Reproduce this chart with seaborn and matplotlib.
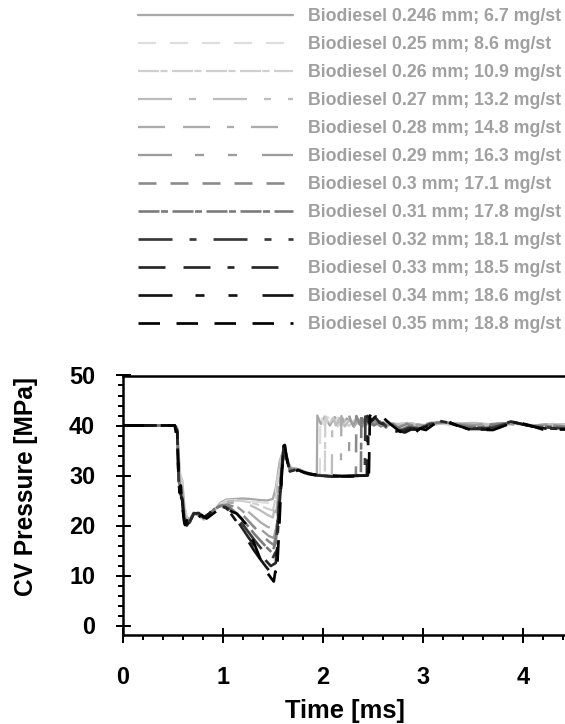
import matplotlib
matplotlib.use("Agg")
import matplotlib.pyplot as plt
import pandas as pd
import seaborn as sns
from matplotlib.ticker import MultipleLocator

# ---------------- data ----------------
nozzle_mm = ["0.246", "0.25", "0.26", "0.27", "0.28", "0.29", "0.3", "0.31", "0.32", "0.33", "0.34", "0.35"]
mass_mg = ["6.7", "8.6", "10.9", "13.2", "14.8", "16.3", "17.1", "17.8", "18.1", "18.5", "18.6", "18.8"]

t0 = [0, 0.52, 0.545, 0.56, 0.575, 0.595, 0.615, 0.64, 0.67, 0.71, 0.76, 0.81, 0.86, 0.92, 0.98, 1.04, 1.12, 1.2, 1.28, 1.36, 1.44, 1.5, 1.53, 1.57, 1.61, 1.65, 1.7, 1.76, 1.84, 1.9, 1.94, 1.945, 1.98, 2.02, 2.07, 2.12, 2.18, 2.24, 2.31, 2.4, 2.5, 2.6, 2.72, 2.85, 3.0, 3.15, 3.3, 3.5, 3.7, 3.9, 4.1, 4.3, 4.42]
p0 = [40, 40, 39.6, 34, 30, 29, 24, 21.6, 21.3, 22.6, 22, 21.2, 21.8, 23.2, 24.6, 25.2, 25.3, 25.4, 25.3, 25.1, 25.0, 25.3, 27.5, 33, 35.2, 32.5, 31.2, 31.3, 30.6, 30.3, 30.1, 42.0, 40.3, 41.8, 40.0, 41.7, 40.1, 41.4, 40.3, 40.9, 40.1, 40.6, 40.2, 40.5, 40.0, 40.4, 40.2, 40.5, 40.1, 40.4, 40.0, 40.3, 40.2]

t1 = [0, 0.52, 0.545, 0.56, 0.575, 0.595, 0.615, 0.64, 0.67, 0.71, 0.76, 0.81, 0.86, 0.92, 0.98, 1.04, 1.12, 1.2, 1.28, 1.36, 1.44, 1.5, 1.53, 1.57, 1.61, 1.65, 1.7, 1.76, 1.84, 1.92, 1.97, 1.975, 2.01, 2.05, 2.1, 2.15, 2.21, 2.27, 2.34, 2.42, 2.52, 2.62, 2.74, 2.87, 3.0, 3.15, 3.3, 3.5, 3.7, 3.9, 4.1, 4.3, 4.42]
p1 = [40, 40, 39.5, 33.5, 29.8, 28.8, 23.8, 21.4, 21.2, 22.5, 22.1, 21.3, 21.9, 23.1, 24.4, 25.0, 25.1, 25.0, 24.9, 24.7, 24.5, 24.6, 26.5, 32.5, 35.4, 32.4, 31.1, 31.2, 30.5, 30.2, 30.0, 42.1, 40.2, 41.7, 39.9, 41.6, 40.0, 41.3, 40.2, 40.8, 40.2, 40.7, 40.1, 40.6, 40.2, 40.3, 40.4, 40.3, 40.2, 40.5, 40.1, 40.2, 40.0]

t2 = [0, 0.52, 0.545, 0.56, 0.575, 0.595, 0.615, 0.64, 0.67, 0.71, 0.76, 0.81, 0.86, 0.92, 0.98, 1.04, 1.12, 1.2, 1.28, 1.36, 1.44, 1.5, 1.53, 1.57, 1.61, 1.65, 1.7, 1.76, 1.84, 1.94, 2.02, 2.025, 2.06, 2.1, 2.15, 2.2, 2.26, 2.32, 2.39, 2.47, 2.56, 2.65, 2.76, 2.88, 3.0, 3.15, 3.3, 3.5, 3.7, 3.9, 4.1, 4.3, 4.42]
p2 = [40, 40, 39.5, 33, 29.5, 28.4, 23.5, 21.2, 21.0, 22.4, 22.0, 21.2, 21.9, 23.0, 24.3, 24.9, 25.0, 24.9, 24.6, 24.1, 23.4, 23.0, 25.5, 32.2, 35.5, 32.6, 31.0, 31.2, 30.5, 30.1, 29.9, 42.0, 40.1, 41.6, 39.8, 41.4, 39.9, 41.2, 40.1, 40.9, 40.0, 40.6, 40.3, 40.5, 39.9, 40.4, 40.2, 40.6, 40.2, 40.4, 39.9, 40.3, 40.1]

t3 = [0, 0.52, 0.545, 0.56, 0.575, 0.595, 0.615, 0.64, 0.67, 0.71, 0.76, 0.81, 0.86, 0.92, 0.98, 1.04, 1.12, 1.2, 1.28, 1.36, 1.44, 1.5, 1.53, 1.57, 1.61, 1.65, 1.7, 1.76, 1.84, 1.96, 2.09, 2.095, 2.13, 2.17, 2.22, 2.27, 2.33, 2.39, 2.46, 2.53, 2.6, 2.68, 2.78, 2.89, 3.0, 3.15, 3.3, 3.5, 3.7, 3.9, 4.1, 4.3, 4.42]
p3 = [40, 40, 39.4, 32.5, 29, 28, 23.2, 21.0, 20.9, 22.4, 22.0, 21.3, 22.0, 23.1, 24.2, 24.8, 24.9, 24.7, 24.0, 23.2, 22.2, 21.6, 24.5, 32, 35.6, 32.7, 31.0, 31.3, 30.4, 30.1, 29.9, 41.9, 40.0, 41.5, 39.8, 41.3, 39.9, 41.0, 40.0, 40.8, 40.0, 40.5, 40.1, 40.4, 39.8, 40.3, 40.4, 40.5, 40.0, 40.6, 40.0, 40.2, 40.0]

t4 = [0, 0.52, 0.545, 0.56, 0.575, 0.595, 0.615, 0.64, 0.67, 0.71, 0.76, 0.81, 0.86, 0.92, 0.98, 1.04, 1.1, 1.17, 1.24, 1.31, 1.38, 1.45, 1.5, 1.54, 1.58, 1.62, 1.67, 1.74, 1.82, 1.95, 2.08, 2.18, 2.185, 2.22, 2.26, 2.31, 2.36, 2.42, 2.48, 2.55, 2.63, 2.72, 2.82, 2.92, 3.04, 3.18, 3.33, 3.5, 3.7, 3.9, 4.1, 4.3, 4.42]
p4 = [40, 40, 39.3, 32, 28.5, 27.5, 22.8, 20.8, 20.8, 22.5, 22.1, 21.4, 22.0, 23.2, 24.2, 24.6, 24.5, 24.0, 23.0, 21.8, 20.6, 19.7, 19.5, 23.5, 31.5, 35.7, 31.5, 31.3, 30.5, 30.1, 29.9, 29.8, 41.9, 40.1, 41.4, 39.7, 41.2, 39.9, 40.9, 40.1, 40.7, 40.0, 40.4, 39.6, 40.1, 40.5, 40.2, 40.0, 40.3, 40.6, 39.9, 40.2, 39.9]

t5 = [0, 0.52, 0.545, 0.56, 0.575, 0.595, 0.615, 0.64, 0.67, 0.71, 0.76, 0.81, 0.86, 0.92, 0.98, 1.04, 1.1, 1.16, 1.22, 1.28, 1.34, 1.4, 1.46, 1.51, 1.55, 1.59, 1.62, 1.67, 1.74, 1.82, 1.95, 2.1, 2.26, 2.265, 2.3, 2.34, 2.39, 2.44, 2.5, 2.57, 2.65, 2.74, 2.84, 2.95, 3.07, 3.2, 3.35, 3.52, 3.7, 3.9, 4.1, 4.3, 4.42]
p5 = [40, 40, 39.2, 31, 28, 27, 22.5, 20.6, 20.7, 22.5, 22.2, 21.5, 22.1, 23.3, 24.1, 24.4, 24.2, 23.5, 22.5, 21.3, 20.0, 18.9, 17.9, 17.5, 21, 31, 35.8, 31.4, 31.3, 30.6, 30.1, 29.8, 29.9, 41.8, 40.0, 41.3, 39.7, 41.0, 39.9, 40.8, 40.0, 40.5, 39.7, 40.2, 39.8, 40.6, 40.3, 40.1, 40.5, 40.2, 40.0, 40.3, 40.0]

t6 = [0, 0.52, 0.545, 0.56, 0.575, 0.595, 0.615, 0.64, 0.67, 0.71, 0.76, 0.81, 0.86, 0.92, 0.98, 1.04, 1.1, 1.16, 1.22, 1.28, 1.34, 1.4, 1.46, 1.51, 1.55, 1.59, 1.62, 1.67, 1.74, 1.82, 1.95, 2.1, 2.25, 2.33, 2.335, 2.37, 2.41, 2.46, 2.52, 2.58, 2.65, 2.74, 2.84, 2.95, 3.07, 3.2, 3.35, 3.52, 3.7, 3.9, 4.1, 4.3, 4.42]
p6 = [40, 40, 39.1, 30, 27.5, 26.5, 22.0, 20.4, 20.6, 22.4, 22.2, 21.5, 22.2, 23.3, 24.0, 24.2, 23.8, 22.9, 21.7, 20.4, 19.1, 17.9, 16.8, 16.1, 19.5, 30.5, 35.9, 31.2, 31.3, 30.6, 30.1, 29.8, 29.9, 30.0, 41.9, 40.2, 41.4, 39.9, 41.0, 39.8, 40.6, 39.5, 40.3, 39.7, 40.5, 40.6, 40.0, 39.8, 40.3, 40.5, 39.9, 40.0, 39.8]

t7 = [0, 0.52, 0.545, 0.56, 0.575, 0.595, 0.615, 0.64, 0.67, 0.71, 0.76, 0.81, 0.86, 0.92, 0.98, 1.03, 1.08, 1.14, 1.2, 1.26, 1.32, 1.38, 1.44, 1.49, 1.53, 1.57, 1.61, 1.67, 1.74, 1.82, 1.95, 2.1, 2.25, 2.38, 2.385, 2.42, 2.46, 2.51, 2.57, 2.63, 2.7, 2.78, 2.87, 2.97, 3.08, 3.2, 3.35, 3.52, 3.7, 3.9, 4.1, 4.3, 4.42]
p7 = [40, 40, 39.0, 29, 27, 26, 21.5, 20.3, 20.6, 22.4, 22.3, 21.6, 22.2, 23.4, 23.9, 23.9, 23.4, 22.4, 21.1, 19.7, 18.2, 16.9, 15.6, 14.6, 16.5, 28, 35.9, 31.1, 31.2, 30.5, 30.1, 29.8, 29.9, 30.0, 41.8, 40.3, 41.5, 40.0, 40.8, 39.6, 40.3, 39.2, 39.9, 39.5, 40.3, 40.8, 40.1, 39.6, 40.0, 40.6, 39.8, 39.8, 39.6]

t8 = [0, 0.52, 0.545, 0.56, 0.575, 0.595, 0.615, 0.64, 0.67, 0.71, 0.76, 0.81, 0.86, 0.92, 0.98, 1.03, 1.08, 1.14, 1.2, 1.26, 1.32, 1.38, 1.44, 1.49, 1.53, 1.57, 1.61, 1.67, 1.74, 1.82, 1.95, 2.1, 2.25, 2.42, 2.425, 2.46, 2.5, 2.55, 2.6, 2.66, 2.72, 2.79, 2.87, 2.96, 3.06, 3.18, 3.32, 3.5, 3.7, 3.9, 4.1, 4.3, 4.42]
p8 = [40, 40, 38.9, 28.5, 26.8, 25.5, 21.2, 20.2, 20.7, 22.4, 22.4, 21.6, 22.3, 23.5, 23.9, 23.7, 23.0, 21.8, 20.2, 18.6, 17.0, 15.5, 14.1, 13.1, 14.8, 26.5, 35.9, 31.0, 31.2, 30.5, 30.0, 29.8, 29.9, 30.0, 41.8, 40.5, 41.6, 40.2, 40.5, 39.3, 39.9, 39.0, 39.6, 39.3, 40.2, 40.9, 40.2, 39.4, 39.6, 40.7, 39.9, 39.5, 39.4]

t9 = [0, 0.52, 0.545, 0.56, 0.575, 0.595, 0.615, 0.64, 0.67, 0.71, 0.76, 0.81, 0.86, 0.92, 0.98, 1.03, 1.08, 1.13, 1.19, 1.25, 1.31, 1.37, 1.43, 1.48, 1.53, 1.57, 1.61, 1.67, 1.74, 1.82, 1.95, 2.1, 2.25, 2.44, 2.445, 2.48, 2.52, 2.57, 2.62, 2.68, 2.74, 2.8, 2.87, 2.95, 3.04, 3.15, 3.28, 3.45, 3.65, 3.88, 4.05, 4.25, 4.42]
p9 = [40, 40, 38.8, 28, 26.5, 25.2, 20.8, 20.1, 20.8, 22.4, 22.5, 21.6, 22.3, 23.6, 23.9, 23.5, 22.7, 21.4, 19.6, 17.8, 16.1, 14.5, 13.0, 11.9, 12.5, 25, 36.0, 30.8, 31.2, 30.4, 30.0, 29.8, 29.9, 30.0, 41.9, 40.8, 41.7, 40.5, 40.2, 39.0, 39.3, 38.8, 39.4, 39.2, 40.0, 41.0, 40.4, 39.3, 39.3, 40.8, 40.0, 39.4, 39.3]

t10 = [0, 0.52, 0.545, 0.56, 0.575, 0.595, 0.615, 0.64, 0.67, 0.71, 0.76, 0.81, 0.86, 0.92, 0.98, 1.03, 1.08, 1.13, 1.19, 1.25, 1.31, 1.37, 1.43, 1.48, 1.53, 1.57, 1.61, 1.67, 1.74, 1.82, 1.95, 2.1, 2.25, 2.45, 2.455, 2.49, 2.53, 2.58, 2.64, 2.7, 2.76, 2.82, 2.88, 2.95, 3.04, 3.14, 3.26, 3.44, 3.64, 3.88, 4.05, 4.25, 4.42]
p10 = [40, 40, 38.7, 27.5, 26.2, 25, 20.5, 20.0, 20.9, 22.4, 22.5, 21.5, 22.3, 23.6, 23.8, 23.3, 22.4, 21.0, 19.0, 17.0, 15.1, 13.4, 11.8, 10.6, 11.0, 24, 36.0, 30.7, 31.2, 30.4, 30.0, 29.7, 29.9, 30.0, 42.0, 41.0, 41.8, 40.7, 39.6, 38.7, 38.9, 38.6, 39.2, 39.2, 39.8, 41.0, 40.6, 39.2, 39.2, 40.8, 40.0, 39.3, 39.3]

t11 = [0, 0.52, 0.545, 0.56, 0.57, 0.58, 0.6, 0.622, 0.655, 0.689, 0.739, 0.789, 0.839, 0.905, 0.96, 1.0, 1.04, 1.088, 1.138, 1.19, 1.238, 1.30, 1.354, 1.404, 1.45, 1.49, 1.51, 1.525, 1.54, 1.565, 1.59, 1.62, 1.65, 1.69, 1.75, 1.82, 1.9, 2.1, 2.27, 2.46, 2.47, 2.52, 2.59, 2.68, 2.77, 2.82, 2.87, 2.92, 2.97, 3.03, 3.12, 3.22, 3.33, 3.47, 3.7, 3.93, 4.1, 4.2, 4.42]
p11 = [40, 40, 37, 30, 26.5, 28, 23, 20.1, 21.5, 22.4, 21.4, 22.1, 21.4, 22.4, 23.2, 23.8, 23.4, 22.8, 22.4, 21.3, 20.1, 17.1, 14.4, 11.8, 10.4, 9.3, 8.8, 10.8, 10.0, 20, 31, 36.1, 32, 30.3, 31.1, 30.6, 30.2, 30.0, 29.8, 30.0, 42.0, 41.1, 41.8, 40.2, 38.8, 38.4, 38.8, 38.5, 39.4, 39.1, 40.4, 41.1, 40.1, 39.2, 39.1, 40.8, 39.8, 39.2, 39.2]

times = [t0, t1, t2, t3, t4, t5, t6, t7, t8, t9, t10, t11]
pressures = [p0, p1, p2, p3, p4, p5, p6, p7, p8, p9, p10, p11]

# ---------------- styles ----------------
line_colors = ["#a8a8a8", "#dedede", "#cfcfcf", "#bdbdbd", "#acacac", "#9c9c9c",
               "#8a8a8a", "#7a7a7a", "#383838", "#262626", "#141414", "#000000"]
dash_a = (18, 14)
dash_b = (21, 1.5, 7, 4.5)
dash_c = (34, 17, 7, 17)
dash_d = (27, 18, 27, 17, 7, 17)
dash_e = (34, 23, 9, 24, 9, 25)
dash_f = (21.5, 16.5)
line_styles = ["-", (0, dash_a), (0, dash_b), (0, dash_c), (0, dash_d), (0, dash_e),
               (0, dash_a), (0, dash_b), (0, dash_c), (0, dash_d), (0, dash_e), (0, dash_f)]
line_widths = [2.3, 2.2, 2.2, 2.3, 2.3, 2.3, 2.6, 2.6, 2.7, 2.7, 2.7, 2.7]

sns.set_theme(style="white")
plt.rcParams["font.family"] = ["Liberation Sans", "DejaVu Sans"]
plt.rcParams["font.weight"] = "bold"
plt.rcParams["axes.labelweight"] = "bold"
plt.rcParams["lines.scale_dashes"] = False
for k in ["text.color", "axes.labelcolor", "xtick.color", "ytick.color", "axes.edgecolor"]:
    plt.rcParams[k] = "black"

W, H = 565, 724
fig = plt.figure(figsize=(W / 72, H / 72), dpi=72)
ax_left, ax_bottom, ax_top = 122.7, 635.0, 375.5
ax = fig.add_axes([ax_left / W, 1 - ax_bottom / H, 1 - ax_left / W, (ax_bottom - ax_top) / H])

labels = []
for i in range(len(times)):
    lab = f"Biodiesel {nozzle_mm[i]} mm; {mass_mg[i]} mg/st"
    labels.append(lab)
    df = pd.DataFrame({"Time [ms]": times[i], "CV Pressure [MPa]": pressures[i]})
    sns.lineplot(data=df, x="Time [ms]", y="CV Pressure [MPa]", ax=ax,
                 color=line_colors[i], linewidth=line_widths[i], linestyle=line_styles[i],
                 estimator=None, errorbar=None, sort=False, legend=False)

handles = ax.get_lines()[:len(labels)]

ax.set_xlim(0, 4.42)
ax.set_ylim(-1.9, 50)
ax.xaxis.set_major_locator(MultipleLocator(1))
ax.xaxis.set_minor_locator(MultipleLocator(0.2))
ax.yaxis.set_major_locator(MultipleLocator(10))
ax.yaxis.set_minor_locator(MultipleLocator(2))

for s in ["left", "bottom", "top"]:
    ax.spines[s].set_color("black")
    ax.spines[s].set_linewidth(2.5)
ax.spines["right"].set_visible(False)

ax.tick_params(which="major", direction="inout", length=15, width=2, labelsize=23.5,
               bottom=True, left=True, top=False, right=False)
ax.tick_params(axis="x", which="major", pad=24)
ax.tick_params(axis="y", which="major", pad=20)
ax.tick_params(which="minor", direction="out", length=5, width=2,
               bottom=True, left=True, top=False, right=False)

ax.set_xlabel("Time [ms]", fontsize=25.5, fontweight="bold")
ax.set_ylabel("CV Pressure [MPa]", fontsize=24.5, fontweight="bold")
ax.xaxis.set_label_coords((345 - ax_left) / (W - ax_left), (ax_bottom - 699) / (ax_bottom - ax_top))
ax.yaxis.set_label_coords((38 - ax_left) / (W - ax_left), (ax_bottom - 487) / (ax_bottom - ax_top))

fs = 17.8
fig.legend(handles, labels, loc="upper left", bbox_to_anchor=(138 / W, 1 - 8 / H),
           frameon=False, handlelength=155 / fs, handletextpad=15 / fs,
           labelspacing=0.62, borderpad=0, borderaxespad=0,
           prop={"size": fs, "weight": "bold", "family": "Liberation Sans"},
           labelcolor="#a0a0a0")

fig.savefig("out.png", dpi=72)
